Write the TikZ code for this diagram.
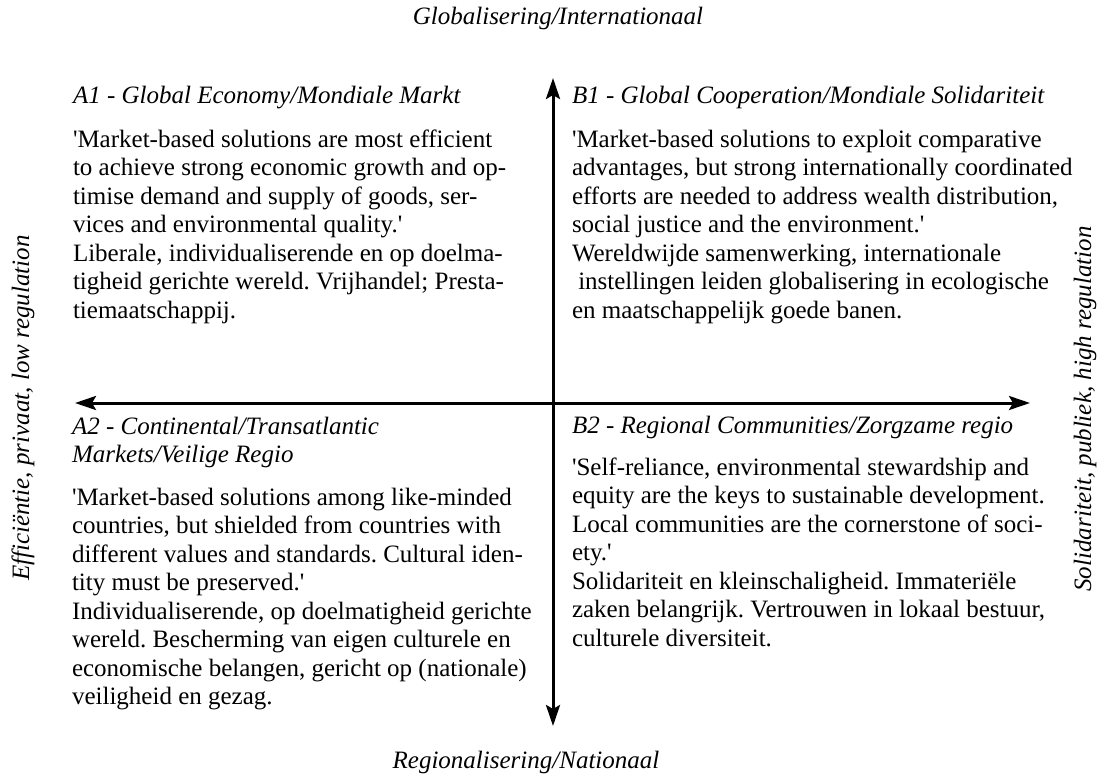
\documentclass[tikz,border=0pt]{standalone}
\usepackage{fontspec}
\setmainfont{Liberation Serif}[Ligatures=TeXOff]
\usetikzlibrary{arrows.meta}
\frenchspacing
\newcommand{\topstrut}{\rule{0pt}{20pt}}
\tikzset{
  axis/.style={line width=3pt, {Stealth[length=21pt,width=14pt,inset=4pt]}-{Stealth[length=21pt,width=14pt,inset=4pt]}},
  txt/.style={inner sep=0pt, outer sep=0pt, align=left, anchor=north west, font=\fontsize{25}{28.5}\selectfont\frenchspacing},
  ttl/.style={txt, font=\fontsize{25}{28.5}\selectfont\itshape},
  lbl/.style={inner sep=0pt, outer sep=0pt, font=\fontsize{25}{28.5}\selectfont\itshape}
}
\begin{document}
\begin{tikzpicture}[x=1pt,y=-1pt]
\useasboundingbox (0,0) rectangle (1103,778);
% axes
\coordinate (top) at (553,78);
\coordinate (bot) at (553,726);
\coordinate (lft) at (75,403);
\coordinate (rgt) at (1030,403);
\draw[axis] (lft) -- (rgt);
\draw[axis] (top) -- (bot);
% axis labels
\node[lbl, anchor=base] (glob) at (558,25) {Globalisering/Internationaal};
\node[lbl, anchor=base] (reg) at (526,768) {Regionalisering/Nationaal};
\node[lbl, rotate=90] (eff) at (23,408) {Efficiëntie, privaat, low regulation};
\node[lbl, rotate=90] (sol) at (1085,409) {Solidariteit, publiek, high regulation};
% A1
\node[ttl] (a1t) at (73,84) {\topstrut A1 - Global Economy/Mondiale Markt};
\node[txt] (a1b) at (73,127) {\topstrut 'Market-based solutions are most efficient\\
to achieve strong economic growth and op-\\
timise demand and supply of goods, ser-\\
vices and environmental quality.'\\
Liberale, individualiserende en op doelma-\\
tigheid gerichte wereld. Vrijhandel; Presta-\\
tiemaatschappij.};
% B1
\node[ttl] (b1t) at (572,84) {\topstrut B1 - Global Cooperation/Mondiale Solidariteit};
\node[txt] (b1b) at (572,127) {\topstrut 'Market-based solutions to exploit comparative\\
advantages, but strong internationally coordinated\\
efforts are needed to address wealth distribution,\\
social justice and the environment.'\\
Wereldwijde samenwerking, internationale\\
\hspace*{6.25pt}instellingen leiden globalisering in ecologische\\
en maatschappelijk goede banen.};
% A2
\node[ttl] (a2t) at (72,414) {\topstrut A2 - Continental/Transatlantic\\
Markets/Veilige Regio};
\node[txt] (a2b) at (72,485) {\topstrut 'Market-based solutions among like-minded\\
countries, but shielded from countries with\\
different values and standards. Cultural iden-\\
tity must be preserved.'\\
Individualiserende, op doelmatigheid gerichte\\
wereld. Bescherming van eigen culturele en\\
economische belangen, gericht op (nationale)\\
veiligheid en gezag.};
% B2
\node[ttl] (b2t) at (572,413) {\topstrut B2 - Regional Communities/Zorgzame regio};
\node[txt] (b2b) at (572,455) {\topstrut 'Self-reliance, environmental stewardship and\\
equity are the keys to sustainable development.\\
Local communities are the cornerstone of soci-\\
ety.'\\
Solidariteit en kleinschaligheid. Immateriële\\
zaken belangrijk. Vertrouwen in lokaal bestuur,\\
culturele diversiteit.};
\end{tikzpicture}
\end{document}
